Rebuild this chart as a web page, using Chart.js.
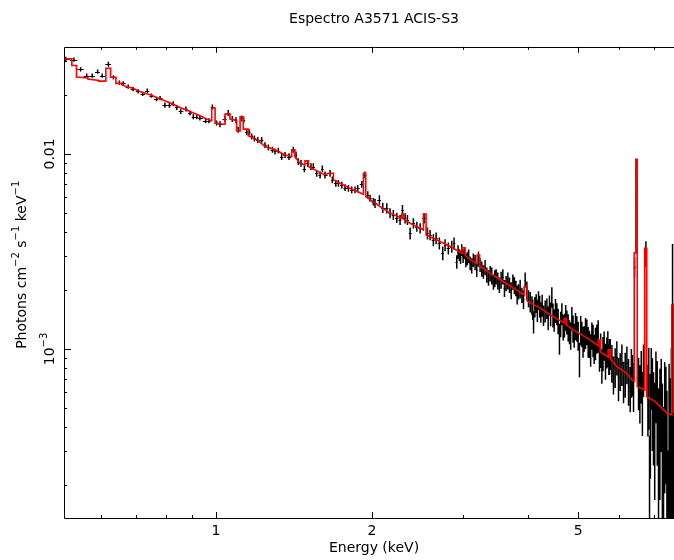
<!DOCTYPE html>
<html>
<head>
<meta charset="utf-8">
<title>Espectro A3571 ACIS-S3</title>
<script src="https://cdn.jsdelivr.net/npm/chart.js@4"></script>
<style>
  html, body { margin: 0; padding: 0; background: #fff; overflow: hidden; }
  #spectrum { display: block; }
</style>
</head>
<body>
<canvas id="spectrum" width="700" height="560"></canvas>
<script>
// data points: bin energy (keV), flux, relative error
const energy = [
  0.513, 0.532, 0.548, 0.563, 0.577, 0.591, 0.603, 0.620, 0.634, 0.651,
  0.662, 0.677, 0.692, 0.708, 0.722, 0.737, 0.751, 0.768, 0.780, 0.797,
  0.813, 0.827, 0.840, 0.855, 0.875, 0.891, 0.904, 0.918, 0.931, 0.955,
  0.969, 0.984, 1.003, 1.018, 1.041, 1.056, 1.075, 1.093, 1.104, 1.121,
  1.131, 1.146, 1.160, 1.172, 1.186, 1.204, 1.225, 1.243, 1.262, 1.285,
  1.300, 1.319, 1.339, 1.359, 1.383, 1.410, 1.427, 1.442, 1.459, 1.481,
  1.503, 1.525, 1.541, 1.564, 1.588, 1.604, 1.623, 1.660, 1.677, 1.703,
  1.723, 1.749, 1.774, 1.801, 1.828, 1.855, 1.877, 1.911, 1.939, 1.963,
  1.983, 2.012, 2.027, 2.067, 2.098, 2.136, 2.167, 2.199, 2.233, 2.266,
  2.290, 2.317, 2.341, 2.369, 2.404, 2.441, 2.477, 2.521, 2.559, 2.589,
  2.627, 2.659, 2.698, 2.739, 2.767, 2.808, 2.851, 2.880,
  2.915, 2.932, 2.949, 2.965, 2.980, 2.998, 3.015, 3.035, 3.055, 3.074,
  3.093, 3.115, 3.138, 3.162, 3.186, 3.210, 3.233, 3.257, 3.281, 3.306,
  3.331, 3.356, 3.381, 3.405, 3.430, 3.451, 3.472, 3.497, 3.523, 3.550,
  3.577, 3.603, 3.630, 3.657, 3.684, 3.712, 3.740, 3.765, 3.790, 3.812,
  3.834, 3.863, 3.893, 3.921, 3.950, 3.980, 4.009, 4.040, 4.071, 4.085,
  4.100, 4.124, 4.148, 4.170, 4.191, 4.213, 4.235, 4.260, 4.285, 4.317,
  4.350, 4.375, 4.400, 4.423, 4.447, 4.470, 4.493, 4.520, 4.547, 4.573,
  4.600, 4.625, 4.650, 4.677, 4.704, 4.729, 4.754, 4.782, 4.810, 4.835,
  4.861, 4.886, 4.911, 4.940, 4.970, 4.999, 5.028, 5.055, 5.082, 5.108,
  5.134, 5.165, 5.196, 5.226, 5.256, 5.284, 5.313, 5.340, 5.367, 5.399,
  5.432, 5.463, 5.495, 5.524, 5.554, 5.582, 5.610, 5.644, 5.678, 5.703,
  5.729, 5.746, 5.764, 5.806, 5.848, 5.892, 5.936, 5.980, 6.025, 6.070,
  6.115, 6.161, 6.207, 6.253, 6.300, 6.332, 6.365, 6.393, 6.422, 6.494,
  6.537, 6.576, 6.616, 6.650, 6.683, 6.754, 6.815, 6.840, 6.864, 6.890,
  6.917, 6.952, 6.987, 7.024, 7.062, 7.103, 7.144, 7.187, 7.230, 7.267,
  7.304, 7.343, 7.382, 7.415, 7.449, 7.487, 7.525, 7.564, 7.603, 7.641,
  7.680, 7.720, 7.760
];
const flux = [
  0.0307, 0.0304, 0.0271, 0.0252, 0.0252, 0.0264, 0.0252, 0.0288, 0.0247, 0.0232,
  0.0230, 0.0221, 0.0215, 0.0209, 0.0203, 0.0211, 0.0199, 0.0191, 0.0193, 0.0178,
  0.0178, 0.0181, 0.0173, 0.0165, 0.0170, 0.0162, 0.0155, 0.0155, 0.0153, 0.0148,
  0.0148, 0.0174, 0.0144, 0.0142, 0.0151, 0.0162, 0.0151, 0.0149, 0.0133, 0.0152,
  0.0149, 0.0129, 0.0129, 0.0123, 0.0120, 0.0118, 0.0118, 0.0111, 0.0108, 0.0105,
  0.0103, 0.0104, 0.00969, 0.00988, 0.00969, 0.0105, 0.00988, 0.00913, 0.00896, 0.00838,
  0.00896, 0.00861, 0.00861, 0.00796, 0.00780, 0.00838, 0.00780, 0.00796, 0.00736, 0.00707,
  0.00707, 0.00693, 0.00672, 0.00667, 0.00654, 0.00654, 0.00667, 0.00699, 0.00780, 0.00616,
  0.00593, 0.00569, 0.00559, 0.00581, 0.00530, 0.00527, 0.00497, 0.00487, 0.00471, 0.00459,
  0.00516, 0.00468, 0.00459, 0.00392, 0.00441, 0.00424, 0.00416, 0.00468, 0.00392, 0.00384,
  0.00362, 0.00370, 0.00348, 0.00310, 0.00341, 0.00328, 0.00335, 0.00348,
  0.00280, 0.00315, 0.00303, 0.00296, 0.00322, 0.00300, 0.00310, 0.00285, 0.00292, 0.00300,
  0.00275, 0.00268, 0.00286, 0.00278, 0.00254, 0.00290, 0.00270, 0.00258, 0.00249, 0.00262,
  0.00240, 0.00232, 0.00244, 0.00238, 0.00221, 0.00230, 0.00235, 0.00224, 0.00213, 0.00226,
  0.00235, 0.00205, 0.00217, 0.00224, 0.00213, 0.00200, 0.00221, 0.00212, 0.00205, 0.00190,
  0.00197, 0.00204, 0.00189, 0.00180, 0.00226, 0.00200, 0.00182, 0.00175, 0.00168, 0.00160,
  0.00138, 0.00165, 0.00172, 0.00158, 0.00178, 0.00166, 0.00155, 0.00168, 0.00149, 0.00157,
  0.00162, 0.00145, 0.00168, 0.00152, 0.00185, 0.00150, 0.00141, 0.00158, 0.00152, 0.00140,
  0.00114, 0.00135, 0.00152, 0.00130, 0.00133, 0.00146, 0.00138, 0.00130, 0.00123, 0.00118,
  0.00144, 0.00128, 0.00118, 0.00132, 0.00128, 0.00118, 0.000896, 0.00126, 0.00120, 0.00110,
  0.00114, 0.00122, 0.00123, 0.00110, 0.00107, 0.00100, 0.00118, 0.00112, 0.00101, 0.00108,
  0.00114, 0.00118, 0.000931, 0.00100, 0.000828, 0.000960, 0.00105, 0.000880, 0.000969, 0.00102,
  0.000896, 0.000930, 0.000951, 0.000860, 0.000750, 0.000820, 0.000913, 0.000720, 0.000780, 0.000850,
  0.000693, 0.000760, 0.000845, 0.000700, 0.000641, 0.000780, 0.000750, 0.000660, 0.00264, 0.00848,
  0.000693, 0.000620, 0.000750, 0.000560, 0.000811, 0.00310, 0.000593, 0.000700, 0.000189, 0.000480,
  0.000750, 0.000600, 0.000506, 0.000420, 0.000693, 0.000560, 0.000370, 0.000480, 0.000593, 0.000380,
  0.000280, 0.000520, 0.000506, 0.000330, 0.000155, 0.000480, 0.000416, 0.000560, 0.00150, 0.000900,
  0.000420, 0.000400, 0.000500
];
const errFrac = [
  0.025, 0.025, 0.025, 0.025, 0.025, 0.025, 0.025, 0.03, 0.025, 0.025,
  0.025, 0.025, 0.025, 0.025, 0.025, 0.025, 0.025, 0.025, 0.025, 0.03,
  0.03, 0.03, 0.03, 0.03, 0.03, 0.03, 0.03, 0.03, 0.03, 0.03,
  0.03, 0.03, 0.03, 0.035, 0.035, 0.035, 0.035, 0.035, 0.035, 0.035,
  0.035, 0.035, 0.035, 0.035, 0.035, 0.035, 0.035, 0.035, 0.035, 0.035,
  0.035, 0.035, 0.04, 0.035, 0.04, 0.035, 0.04, 0.04, 0.04, 0.04,
  0.04, 0.04, 0.04, 0.04, 0.04, 0.04, 0.04, 0.04, 0.04, 0.04,
  0.04, 0.04, 0.04, 0.04, 0.04, 0.04, 0.04, 0.04, 0.04, 0.045,
  0.04, 0.045, 0.055, 0.055, 0.06, 0.06, 0.06, 0.06, 0.06, 0.06,
  0.06, 0.06, 0.06, 0.07, 0.06, 0.06, 0.06, 0.06, 0.07, 0.06,
  0.07, 0.07, 0.07, 0.08, 0.07, 0.07, 0.07, 0.07,
  0.08, 0.08, 0.07, 0.08, 0.07, 0.08, 0.07, 0.08, 0.08, 0.08,
  0.08, 0.09, 0.08, 0.09, 0.08, 0.09, 0.08, 0.09, 0.08, 0.09,
  0.09, 0.09, 0.09, 0.10, 0.09, 0.10, 0.09, 0.10, 0.09, 0.10,
  0.09, 0.10, 0.09, 0.10, 0.09, 0.10, 0.09, 0.10, 0.09, 0.11,
  0.09, 0.11, 0.09, 0.11, 0.09, 0.11, 0.10, 0.12, 0.11, 0.12,
  0.13, 0.12, 0.11, 0.13, 0.11, 0.13, 0.12, 0.13, 0.12, 0.13,
  0.12, 0.14, 0.12, 0.14, 0.12, 0.14, 0.13, 0.14, 0.13, 0.15,
  0.18, 0.15, 0.13, 0.15, 0.14, 0.15, 0.14, 0.16, 0.14, 0.16,
  0.14, 0.16, 0.14, 0.16, 0.15, 0.17, 0.20, 0.17, 0.15, 0.18,
  0.15, 0.18, 0.15, 0.18, 0.16, 0.19, 0.16, 0.19, 0.17, 0.19,
  0.17, 0.19, 0.18, 0.20, 0.20, 0.20, 0.17, 0.21, 0.18, 0.21,
  0.18, 0.21, 0.18, 0.22, 0.22, 0.23, 0.20, 0.25, 0.22, 0.24,
  0.24, 0.26, 0.22, 0.27, 0.26, 0.28, 0.24, 0.28, 0.12, 0.08,
  0.30, 0.33, 0.30, 0.36, 0.30, 0.15, 0.40, 0.45, 0.90, 0.55,
  0.35, 0.50, 0.50, 0.60, 0.40, 0.55, 0.70, 0.65, 0.50, 0.75,
  0.80, 0.65, 0.60, 0.85, 0.95, 0.75, 0.70, 0.80, 1.30, 0.90,
  0.70, 0.90, 0.80
];

// folded model, traced as a step line (repeated energy = vertical step)
const modelEnergy = [
  0.509, 0.527, 0.527, 0.538, 0.538, 0.566, 0.566, 0.594, 0.594, 0.613,
  0.613, 0.626, 0.626, 0.641, 0.641, 0.658, 0.658, 0.672, 0.688, 0.713,
  0.746, 0.780, 0.815, 0.852, 0.891, 0.931, 0.959, 0.981, 0.981, 0.996,
  0.996, 1.033, 1.041, 1.041, 1.064, 1.064, 1.096, 1.096, 1.113, 1.113,
  1.129, 1.129, 1.154, 1.154, 1.207, 1.243, 1.300, 1.359, 1.400, 1.400,
  1.420, 1.420, 1.453, 1.485, 1.485, 1.507, 1.507, 1.576, 1.623, 1.647,
  1.685, 1.685, 1.749, 1.828, 1.925, 1.925, 1.945, 1.945, 1.998, 2.073,
  2.167, 2.283, 2.283, 2.300, 2.300, 2.369, 2.477, 2.513, 2.513, 2.543,
  2.543, 2.668, 2.830, 2.984, 2.984, 3.025, 3.025, 3.093, 3.190, 3.190,
  3.226, 3.226, 3.381, 3.586, 3.750, 3.933, 3.933, 3.986, 3.986, 4.222,
  4.479, 4.697, 4.697, 4.739, 4.739, 4.896, 5.196, 5.463, 5.463, 5.513,
  5.513, 5.711, 5.711, 5.764, 5.764, 5.936, 6.199, 6.348, 6.413, 6.413,
  6.456, 6.456, 6.499, 6.499, 6.718, 6.718, 6.778, 6.778, 7.040, 7.416,
  7.575, 7.575, 7.641, 7.641, 8.0
];
const modelFlux = [
  0.0307, 0.0307, 0.0284, 0.0284, 0.0248, 0.0245, 0.0242, 0.0238, 0.0236, 0.0236,
  0.0275, 0.0275, 0.0247, 0.0247, 0.0230, 0.0230, 0.0226, 0.0221, 0.0218, 0.0209,
  0.0201, 0.0191, 0.0183, 0.0173, 0.0165, 0.0157, 0.0151, 0.0148, 0.0172, 0.0172,
  0.0144, 0.0142, 0.0142, 0.0160, 0.0160, 0.0151, 0.0149, 0.0131, 0.0131, 0.0155,
  0.0155, 0.0134, 0.0134, 0.0124, 0.0117, 0.0109, 0.0105, 0.00988, 0.00969, 0.0105,
  0.0105, 0.00965, 0.00896, 0.00878, 0.00921, 0.00921, 0.00861, 0.00811, 0.00780, 0.00796,
  0.00796, 0.00736, 0.00699, 0.00659, 0.00621, 0.00796, 0.00796, 0.00604, 0.00574, 0.00537,
  0.00497, 0.00468, 0.00491, 0.00491, 0.00464, 0.00441, 0.00416, 0.00408, 0.00491, 0.00491,
  0.00384, 0.00362, 0.00335, 0.00309, 0.00330, 0.00330, 0.00303, 0.00286, 0.00275, 0.00303,
  0.00303, 0.00267, 0.00244, 0.00221, 0.00205, 0.00189, 0.00209, 0.00209, 0.00176, 0.00162,
  0.00146, 0.00136, 0.00143, 0.00143, 0.00133, 0.00125, 0.00114, 0.00104, 0.00111, 0.00111,
  0.000965, 0.000910, 0.000989, 0.000989, 0.000889, 0.000811, 0.000750, 0.000693, 0.000685, 0.00311,
  0.00311, 0.00937, 0.00937, 0.000641, 0.000616, 0.00328, 0.00328, 0.000569, 0.000537, 0.000468,
  0.000459, 0.00168, 0.00168, 0.000475, 0.000440
];

// axes
const xMajorTicks = [1, 2, 5];
const xTickLabels = ['1', '2', '5'];
const xMinorTicks = [0.6, 0.7, 0.8, 0.9, 3, 4, 6, 7, 8];
const yMajorTicks = [0.01, 0.001];
const yTickLabels = [[['0.01', false]], [['10', false], ['\u22123', true]]];
const yMinorTicks = [0.0002, 0.0003, 0.0004, 0.0005, 0.0006, 0.0007, 0.0008, 0.0009,
                     0.002, 0.003, 0.004, 0.005, 0.006, 0.007, 0.008, 0.009, 0.02, 0.03];
const xTitle = 'Energy (keV)';
const yTitle = [['Photons cm', false], ['\u22122', true], [' s', false], ['\u22121', true],
                [' keV', false], ['\u22121', true]];

const FONT = '"DejaVu Sans", sans-serif';

function richText(ctx, parts, x, y, size) {
  const supSize = Math.round(size * 0.72);
  let total = 0;
  parts.forEach(function (p) {
    ctx.font = (p[1] ? supSize : size) + 'px ' + FONT;
    total += ctx.measureText(p[0]).width;
  });
  let cx = x - total / 2;
  ctx.textAlign = 'left';
  ctx.textBaseline = 'middle';
  parts.forEach(function (p) {
    ctx.font = (p[1] ? supSize : size) + 'px ' + FONT;
    ctx.fillText(p[0], cx, p[1] ? y - size * 0.42 : y);
    cx += ctx.measureText(p[0]).width;
  });
}

// crosses: bin width across, error up and down
const errorBars = {
  id: 'errorBars',
  beforeDatasetsDraw(chart) {
    const ctx = chart.ctx, a = chart.chartArea;
    const xs = chart.scales.x, ys = chart.scales.y;
    const n = energy.length;
    ctx.save();
    ctx.beginPath();
    ctx.rect(a.left, a.top, a.right - a.left, a.bottom - a.top);
    ctx.clip();
    ctx.strokeStyle = '#000';
    // horizontal bars: bin width
    ctx.lineWidth = 1;
    ctx.beginPath();
    for (let i = 0; i < n; i++) {
      const e = energy[i];
      const prev = i > 0 ? energy[i - 1] : e - (energy[1] - energy[0]);
      const next = i < n - 1 ? energy[i + 1] : e + (e - energy[i - 1]);
      const py = Math.round(ys.getPixelForValue(flux[i])) + 0.5;
      ctx.moveTo(xs.getPixelForValue((prev + e) / 2), py);
      ctx.lineTo(xs.getPixelForValue((e + next) / 2), py);
    }
    ctx.stroke();
    // vertical bars: errors
    ctx.lineWidth = 1.5;
    ctx.beginPath();
    for (let i = 0; i < n; i++) {
      const f = flux[i], d = f * errFrac[i];
      const px = xs.getPixelForValue(energy[i]);
      const yHi = ys.getPixelForValue(f + d);
      const yLo = f - d > 0 ? ys.getPixelForValue(f - d) : a.bottom + 10;
      ctx.moveTo(px, yHi);
      ctx.lineTo(px, yLo);
    }
    ctx.stroke();
    ctx.restore();
  }
};

// pgplot style box: inward ticks, rotated y labels
const pgAxes = {
  id: 'pgAxes',
  afterDraw(chart) {
    const ctx = chart.ctx, a = chart.chartArea;
    const xs = chart.scales.x, ys = chart.scales.y;
    ctx.save();
    ctx.strokeStyle = '#000';
    ctx.lineWidth = 1;
    ctx.beginPath();
    ctx.rect(Math.round(a.left) + 0.5, Math.round(a.top) + 0.5,
             Math.round(a.right - a.left), Math.round(a.bottom - a.top));
    function xTick(v, len) {
      const x = Math.round(xs.getPixelForValue(v)) + 0.5;
      ctx.moveTo(x, a.bottom); ctx.lineTo(x, a.bottom - len);
      ctx.moveTo(x, a.top); ctx.lineTo(x, a.top + len);
    }
    function yTick(v, len) {
      const y = Math.round(ys.getPixelForValue(v)) + 0.5;
      ctx.moveTo(a.left, y); ctx.lineTo(a.left + len, y);
      ctx.moveTo(a.right, y); ctx.lineTo(a.right - len, y);
    }
    xMajorTicks.forEach(function (v) { xTick(v, 6); });
    xMinorTicks.forEach(function (v) { xTick(v, 3); });
    yMajorTicks.forEach(function (v) { yTick(v, 7); });
    yMinorTicks.forEach(function (v) { yTick(v, 3); });
    ctx.stroke();

    ctx.fillStyle = '#000';
    ctx.font = '14px ' + FONT;
    ctx.textAlign = 'center';
    ctx.textBaseline = 'middle';
    xMajorTicks.forEach(function (v, i) {
      ctx.fillText(xTickLabels[i], xs.getPixelForValue(v), a.bottom + 13);
    });
    ctx.fillText(xTitle, (a.left + a.right) / 2, a.bottom + 30);

    yMajorTicks.forEach(function (v, i) {
      ctx.save();
      ctx.translate(a.left - 14, ys.getPixelForValue(v));
      ctx.rotate(-Math.PI / 2);
      richText(ctx, yTickLabels[i], 0, 0, 14);
      ctx.restore();
    });
    ctx.save();
    ctx.translate(22, a.top + 218);
    ctx.rotate(-Math.PI / 2);
    richText(ctx, yTitle, 0, 0, 14);
    ctx.restore();
    ctx.restore();
  }
};

const ctx = document.getElementById('spectrum').getContext('2d');
const chart = new Chart(ctx, {
  type: 'scatter',
  data: {
    datasets: [
      {
        type: 'line',
        label: 'Modelo',
        data: modelEnergy.map(function (e, i) { return { x: e, y: modelFlux[i] }; }),
        borderColor: '#ff0000',
        borderWidth: 1.6,
        pointRadius: 0,
        fill: false,
        tension: 0
      },
      {
        label: 'Datos',
        data: energy.map(function (e, i) { return { x: e, y: flux[i] }; }),
        pointRadius: 0,
        showLine: false
      }
    ]
  },
  options: {
    responsive: false,
    animation: false,
    devicePixelRatio: 1,
    layout: { padding: { left: 64, right: 16, top: 0, bottom: 42 } },
    plugins: {
      legend: { display: false },
      tooltip: { enabled: false },
      title: {
        display: true,
        text: 'Espectro A3571 ACIS-S3',
        fullSize: false,
        color: '#000',
        font: { family: FONT, size: 14, weight: 'normal' },
        padding: { top: 11, bottom: 19 }
      }
    },
    scales: {
      x: { type: 'logarithmic', min: 0.509, max: 8, display: false },
      y: { type: 'logarithmic', min: 0.000136, max: 0.0354, display: false }
    }
  },
  plugins: [errorBars, pgAxes]
});
</script>
</body>
</html>
